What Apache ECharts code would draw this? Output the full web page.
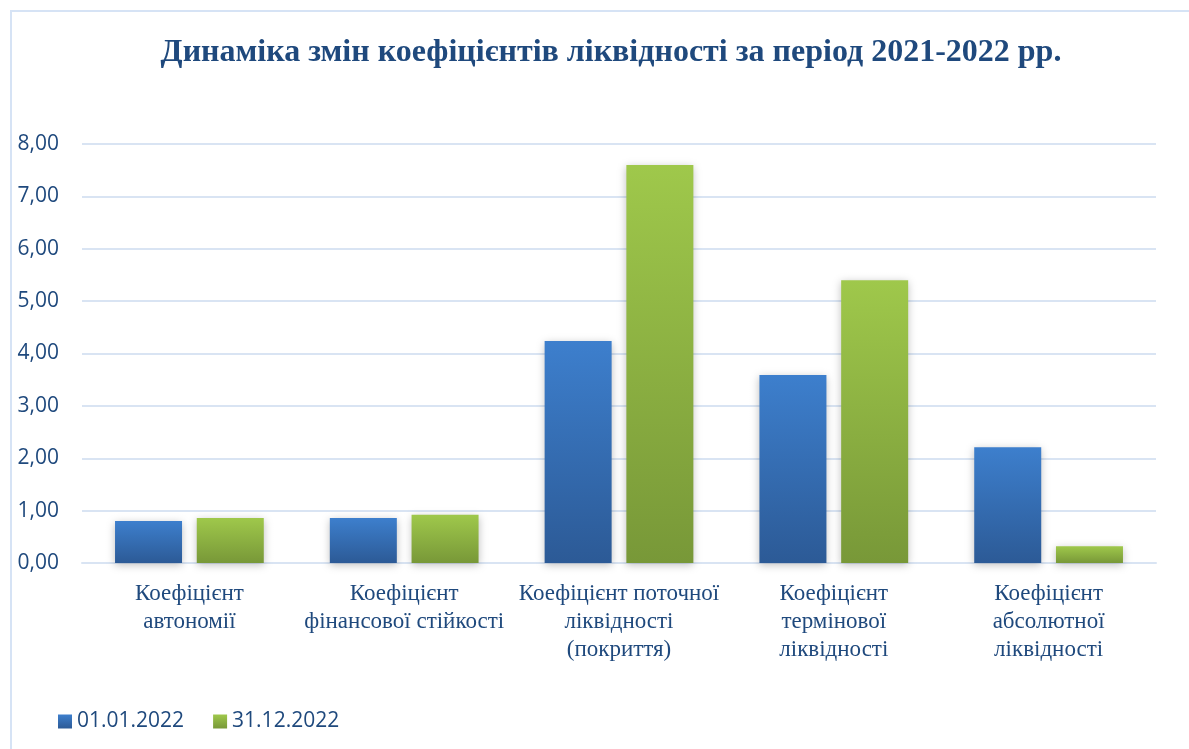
<!DOCTYPE html>
<html>
<head>
<meta charset="utf-8">
<script src="https://cdn.jsdelivr.net/npm/echarts@6/dist/echarts.min.js"></script>
<style>
html,body{margin:0;padding:0;background:#fff;}
#chart{width:1189px;height:749px;}
</style>
</head>
<body>
<div id="chart"></div>
<script>
const categories = [
  'Коефіцієнт\nавтономії',
  'Коефіцієнт\nфінансової стійкості',
  'Коефіцієнт поточної\nліквідності\n(покриття)',
  'Коефіцієнт\nтермінової\nліквідності',
  'Коефіцієнт\nабсолютної\nліквідності'
];
const seriesNames = ['01.01.2022', '31.12.2022'];
const values2022Start = [0.80, 0.86, 4.24, 3.59, 2.21];
const values2022End = [0.86, 0.92, 7.60, 5.40, 0.32];
const yTicks = [0, 1, 2, 3, 4, 5, 6, 7, 8];

const chart = echarts.init(document.getElementById('chart'));
const textColor = '#1F497D';
const gridColor = '#D9E4F3';

function grad(top, bottom) {
  return new echarts.graphic.LinearGradient(0, 0, 0, 1, [
    {offset: 0, color: top}, {offset: 1, color: bottom}
  ]);
}

chart.setOption({
  backgroundColor: '#fff',
  animation: false,
  title: {
    text: 'Динаміка змін коефіцієнтів ліквідності за період 2021-2022 рр.',
    left: 606, top: 32, textAlign: 'center',
    textStyle: {fontFamily: 'Liberation Serif', fontWeight: 'bold', fontSize: 32, color: textColor}
  },
  legend: {
    left: 53, top: 706, itemWidth: 14, itemHeight: 14, itemGap: 29,
    icon: 'rect',
    textStyle: {fontFamily: 'Open Sans', fontSize: 21, color: textColor},
    data: seriesNames
  },
  graphic: [
    {type: 'line', shape: {x1: 10, y1: 11, x2: 1189, y2: 11}, style: {stroke: '#D6E3F5', lineWidth: 2}},
    {type: 'line', shape: {x1: 11, y1: 10, x2: 11, y2: 749}, style: {stroke: '#D6E3F5', lineWidth: 2}}
  ],
  grid: {left: 82, right: 33, top: 144, bottom: 186, containLabel: false},
  xAxis: {
    type: 'category', data: categories,
    axisTick: {show: false},
    axisLine: {show: true, lineStyle: {color: gridColor, width: 2}},
    axisLabel: {
      fontFamily: 'Liberation Serif', fontSize: 23, color: textColor,
      lineHeight: 28, margin: 17, interval: 0
    }
  },
  yAxis: {
    type: 'value', min: 0, max: 8, interval: 1,
    axisLine: {show: false}, axisTick: {show: false},
    splitLine: {lineStyle: {color: gridColor, width: 2}},
    axisLabel: {
      fontFamily: 'Open Sans', fontSize: 21, color: textColor, margin: 23,
      formatter: v => yTicks.includes(v) ? v.toFixed(2).replace('.', ',') : ''
    }
  },
  series: [
    {
      name: seriesNames[0], type: 'bar', data: values2022Start,
      barWidth: 67, barGap: '22%',
      itemStyle: {color: grad('#3D7FCD', '#2C5A96'), shadowColor: 'rgba(0,0,0,0.25)', shadowBlur: 8, shadowOffsetY: 2}
    },
    {
      name: seriesNames[1], type: 'bar', data: values2022End,
      barWidth: 67,
      itemStyle: {color: grad('#9FC84B', '#789838'), shadowColor: 'rgba(0,0,0,0.25)', shadowBlur: 8, shadowOffsetY: 2}
    }
  ]
});
</script>
</body>
</html>
